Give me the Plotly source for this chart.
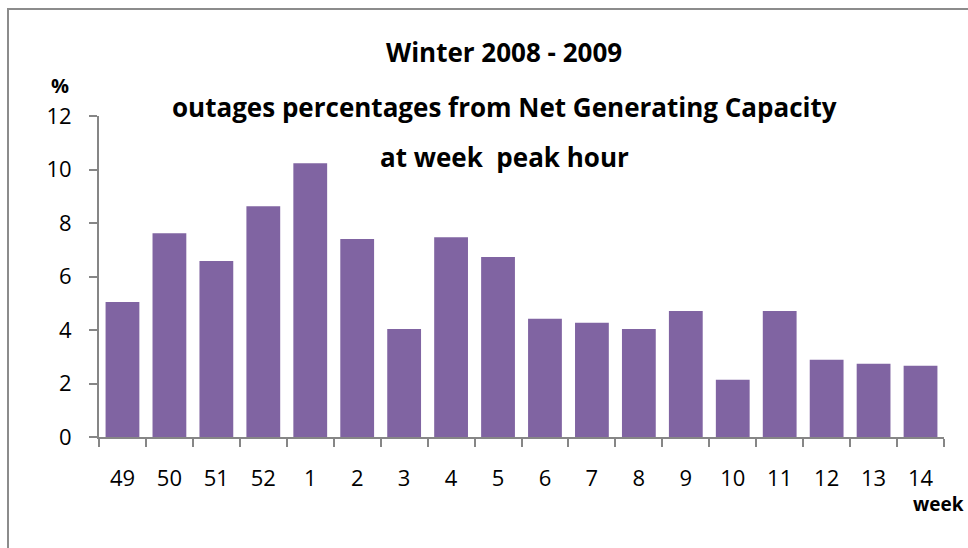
import plotly.graph_objects as go

# --- data ---
weeks = ["49", "50", "51", "52", "1", "2", "3", "4", "5", "6", "7", "8", "9", "10", "11", "12", "13", "14"]
outage_pct = [5.05, 7.62, 6.58, 8.63, 10.23, 7.40, 4.04, 7.47, 6.73, 4.42, 4.27, 4.04, 4.71, 2.14, 4.71, 2.89, 2.74, 2.66]
y_ticks = [0, 2, 4, 6, 8, 10, 12]

# --- style ---
BAR_COLOR = "#8064A2"
AXIS_COLOR = "#868686"
FONT = "Open Sans"

W, H = 968, 548
L, R, T, B = 99, 24, 116, 111
plot_w = W - L - R
plot_h = H - T - B

fig = go.Figure()
fig.add_trace(go.Bar(x=weeks, y=outage_pct, marker=dict(color=BAR_COLOR, line=dict(width=0)),
                     width=0.72, showlegend=False))


def px_x(x):
    return (x - L) / plot_w


def px_y(y):
    return (H - B - y) / plot_h


def label(text, x, y, size):
    return dict(text=f"<b>{text}</b>", x=px_x(x), y=px_y(y), xref="paper", yref="paper",
                xanchor="center", yanchor="middle", showarrow=False,
                font=dict(size=size, color="black", family=FONT))


titles = [("Winter 2008 - 2009", 52), ("outages percentages from Net Generating Capacity", 107),
          ("at week  peak hour", 157)]
annotations = [label(t, 504, yy, 26) for t, yy in titles]
annotations.append(label("%", 60, 85, 20))
annotations.append(label("week", 938, 504, 19))

fig.update_layout(
    width=W, height=H,
    margin=dict(l=L, r=R, t=T, b=B),
    paper_bgcolor="white", plot_bgcolor="white",
    bargap=0.28,
    font=dict(family=FONT, size=22, color="black"),
    xaxis=dict(type="category", showline=True, linecolor=AXIS_COLOR, linewidth=2,
               ticks="outside", tickson="boundaries", ticklen=8, tickcolor=AXIS_COLOR, tickwidth=2,
               showgrid=False, ticklabelstandoff=21, tickfont=dict(size=22)),
    yaxis=dict(range=[0, 12], tickvals=y_ticks, showline=True, linecolor=AXIS_COLOR, linewidth=2,
               ticks="outside", ticklen=8, tickcolor=AXIS_COLOR, tickwidth=2, showgrid=False,
               zeroline=False, ticklabelstandoff=13, tickfont=dict(size=22)),
    annotations=annotations,
    shapes=[dict(type="rect", xref="paper", yref="paper", x0=px_x(8), y0=px_y(600),
                 x1=px_x(1100), y1=px_y(9), line=dict(color="#8C8C8C", width=2), layer="below")],
)

fig.write_html("out.html", config={"displayModeBar": False},
               post_script="document.body.style.margin='0';document.body.style.overflow='hidden';")
